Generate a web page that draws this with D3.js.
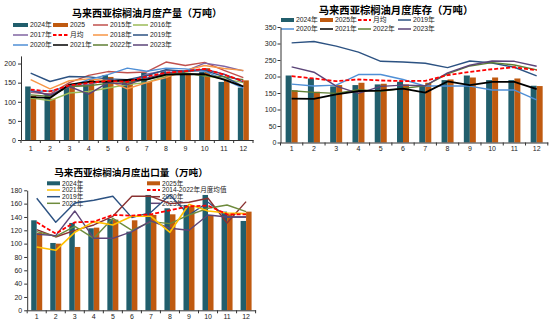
<!DOCTYPE html>
<html><head><meta charset="utf-8">
<script src="https://cdn.jsdelivr.net/npm/d3@7"></script>
<style>
body{margin:0;background:#fff}
svg{display:block}
text{font-family:"Liberation Sans","Noto Sans CJK SC",sans-serif;fill:#222}
.title{font-family:"Noto Sans CJK SC","Liberation Sans",sans-serif;font-weight:bold;fill:#000}
</style>
</head><body>
<svg id="c" width="550" height="325"></svg>
<script>
const months = [1,2,3,4,5,6,7,8,9,10,11,12];

// ---- 马来西亚棕榈油月度产量（万吨）
const prod2024 = [140,122,137,147,170,158,176,180,178,178,152,137];
const prod2025 = [116,108,141,158,165,156,152,168,176,188,160,156];
const prod2015 = [125,120,150,169,179,176,178,204,195,203,182,163];
const prod2016 = [110,103,123,127,136,145,150,168,175,168,160,150];
const prod2017 = [128,118,140,145,158,150,172,182,180,201,193,181];
const prod2018 = [158,134,155,160,155,134,150,163,182,195,187,182];
const prod2019 = [175,153,166,165,160,158,168,184,180,182,166,140];
const prod2020 = [127,128,140,158,171,188,180,188,186,180,158,136];
const prod2021 = [112,110,145,152,153,157,158,171,172,172,158,140];
const prod2022 = [118,114,140,142,148,150,158,172,175,168,165,158];
const prod2023 = [130,117,140,120,150,145,162,175,180,185,172,152];
const prodAvg  = [132,127,143,149,155,152,166,176,180,186,171,154];
const prodTicks = [0,50,100,150,200];

// ---- 马来西亚棕榈油月度库存（万吨）
const inv2024 = [203,194,170,174,176,184,174,189,203,189,189,172];
const inv2025 = [158,154,174,181,178,176,181,191,197,197,194,171];
const invAvg  = [201,194,186,191,188,186,187,204,214,222,228,219];
const inv2019 = [302,306,292,274,246,244,240,227,247,241,228,202];
const inv2020 = [177,171,174,206,206,191,171,171,171,159,159,129];
const inv2021 = [133,132,146,156,157,163,151,185,174,184,184,162];
const inv2022 = [157,152,149,160,155,164,172,208,232,242,235,220];
const inv2023 = [229,213,171,149,170,174,172,211,234,247,246,231];
const invTicks = [0,50,100,150,200,250,300,350];

// ---- 马来西亚棕榈油月度出口量（万吨）
const exp2024 = [135,101,131,123,137,118,173,153,158,173,148,134];
const exp2025 = [116,100,95,124,136,135,143,144,156,143,144,148];
const expAvg  = [132,115,132,133,143,142,144,150,156,157,144,144];
const exp2019 = [168,132,161,165,171,139,147,173,143,162,140,140];
const exp2020 = [121,110,120,128,141,171,171,160,162,168,131,163];
const exp2021 = [95,90,117,133,128,141,141,117,159,149,146,145];
const exp2022 = [118,111,126,108,138,120,133,130,143,153,158,148];
const exp2023 = [114,112,149,108,108,118,134,123,120,143,140,140];
const expTicks = [0,20,40,60,80,100,120,140,160,180];

const TEAL = "#215e6c", ORANGE = "#bf5a10";
const svg = d3.select("#c");

function chart(o){
  const g = svg.append("g");
  const x = d3.scaleBand().domain(months).range([o.x0,o.x1]);
  const y = d3.scaleLinear().domain([0,o.ymax]).range([o.y0,o.y1]);
  const cx = m => x(m) + x.bandwidth()/2;

  // title
  g.append("text").attr("class","title").attr("x",o.tx).attr("y",o.ty)
    .attr("text-anchor","middle").style("font-size",o.tfs+"px").text(o.title);

  // legend
  o.legend.forEach((it,i)=>{
    const c = i % o.lcols.length, r = Math.floor(i / o.lcols.length);
    const lx = o.lcols[c], ly = o.lrows[r];
    if(it.bar){
      g.append("rect").attr("x",lx).attr("y",ly-2).attr("width",o.lsw).attr("height",4).attr("fill",it.color);
    } else {
      g.append("line").attr("x1",lx).attr("x2",lx+o.lsw).attr("y1",ly).attr("y2",ly)
        .attr("stroke",it.color).attr("stroke-width",it.dash?1.8:1.5)
        .attr("stroke-dasharray",it.dash?"3.5,2":null);
    }
    g.append("text").attr("x",lx+o.lsw+2).attr("y",ly).attr("dy","0.35em")
      .style("font-size",o.lfs+"px").text(it.name);
  });

  // bars
  o.bars.forEach((b,bi)=>{
    g.append("g").selectAll("rect").data(b.values).join("rect")
      .attr("x",(d,i)=> cx(months[i]) + (bi===0 ? -o.bw : 0))
      .attr("width",o.bw)
      .attr("y",d=>y(d)).attr("height",d=>y(0)-y(d))
      .attr("fill",b.color);
  });

  // lines
  const line = d3.line().x((d,i)=>cx(months[i])).y(d=>y(d));
  o.lines.forEach(l=>{
    g.append("path").datum(l.values).attr("d",line).attr("fill","none")
      .attr("stroke",l.color).attr("stroke-width",l.w||1.4)
      .attr("stroke-linejoin","round")
      .attr("stroke-dasharray",l.dash?"4,2":null);
  });

  // y axis
  const ya = g.append("g").attr("transform",`translate(${o.x0},0)`)
    .call(d3.axisLeft(y).tickValues(o.yticks).tickSize(3).tickSizeOuter(0).tickPadding(o.ypad));
  ya.selectAll("text").style("font-size",o.fs+"px");
  ya.selectAll("line,path").attr("stroke","#333");

  // x axis
  const xa = g.append("g").attr("transform",`translate(0,${o.y0})`)
    .call(d3.axisBottom(x).tickSize(0).tickSizeOuter(0).tickPadding(o.xpad));
  xa.selectAll("text").style("font-size",o.fs+"px");
  xa.select("path").attr("stroke","#333");
  g.append("g").selectAll("line").data(months.concat([null])).join("line")
    .attr("x1",d=> d===null ? o.x1 : x(d)).attr("x2",d=> d===null ? o.x1 : x(d))
    .attr("y1",o.y0).attr("y2",o.y0+3).attr("stroke","#333");
}

// production
chart({
  title:"马来西亚棕榈油月度产量（万吨）", tx:147, ty:16.5, tfs:10,
  x0:21, x1:253, y0:140, y1:55.9, ymax:220, yticks:prodTicks, fs:7, ypad:2, xpad:6, bw:5.5,
  lcols:[13,53,93,133], lrows:[25,35,45], lsw:15, lfs:6.8,
  legend:[
    {name:"2024年",color:TEAL,bar:true},{name:"2025",color:ORANGE,bar:true},
    {name:"2015年",color:"#c0504d"},{name:"2016年",color:"#9bbb59"},
    {name:"2017年",color:"#8064a2"},{name:"月均",color:"#ff0000",dash:true},
    {name:"2018年",color:"#f79646"},{name:"2019年",color:"#2c5282"},
    {name:"2020年",color:"#4f8fd6"},{name:"2021年",color:"#000"},
    {name:"2022年",color:"#5f7f34"},{name:"2023年",color:"#5b4478"}
  ],
  bars:[{values:prod2024,color:TEAL},{values:prod2025,color:ORANGE}],
  lines:[
    {values:prod2015,color:"#c0504d"},{values:prod2016,color:"#9bbb59"},
    {values:prod2017,color:"#8064a2"},{values:prod2018,color:"#f79646"},
    {values:prod2019,color:"#2c5282"},{values:prod2020,color:"#4f8fd6"},
    {values:prod2022,color:"#5f7f34"},{values:prod2023,color:"#5b4478"},
    {values:prod2021,color:"#000",w:1.8},{values:prodAvg,color:"#ff0000",dash:true,w:1.8}
  ]
});

// inventory
chart({
  title:"马来西亚棕榈油月度库存（万吨）", tx:396, ty:13.8, tfs:10.3,
  x0:280.5, x1:547.8, y0:142.5, y1:27, ymax:350, yticks:invTicks, fs:7, ypad:1, xpad:4, bw:6,
  lcols:[281,320,358,398], lrows:[20,29], lsw:13, lfs:6.8,
  legend:[
    {name:"2024年",color:TEAL,bar:true},{name:"2025年",color:ORANGE,bar:true},
    {name:"月均",color:"#ff0000",dash:true},{name:"2019年",color:"#2c5282"},
    {name:"2020年",color:"#4f8fd6"},{name:"2021年",color:"#000"},
    {name:"2022年",color:"#5f7f34"},{name:"2023年",color:"#5b4478"}
  ],
  bars:[{values:inv2024,color:TEAL},{values:inv2025,color:ORANGE}],
  lines:[
    {values:inv2019,color:"#2c5282"},{values:inv2020,color:"#4f8fd6"},
    {values:inv2022,color:"#5f7f34"},{values:inv2023,color:"#5b4478"},
    {values:inv2021,color:"#000",w:1.8},{values:invAvg,color:"#ff0000",dash:true,w:1.8}
  ]
});

// exports
chart({
  title:"马来西亚棕榈油月度出口量（万吨）", tx:131, ty:176.2, tfs:9.6,
  x0:27.2, x1:255.6, y0:310.3, y1:190.3, ymax:180, yticks:expTicks, fs:7, ypad:2, xpad:4, bw:5.5,
  lcols:[47,147], lrows:[183.3,190,196.7,203.3], lsw:13, lfs:6.6,
  legend:[
    {name:"2024年",color:TEAL,bar:true},{name:"2025年",color:ORANGE,bar:true},
    {name:"2021年",color:"#ffc000"},{name:"2014-2022年月度均值",color:"#ff0000",dash:true},
    {name:"2019年",color:"#2c5282"},{name:"2020年",color:"#8a3232"},
    {name:"2022年",color:"#6e8b3d"},{name:"2023年",color:"#5e4577"}
  ],
  bars:[{values:exp2024,color:TEAL},{values:exp2025,color:ORANGE}],
  lines:[
    {values:exp2019,color:"#2c5282"},{values:exp2020,color:"#8a3232"},
    {values:exp2022,color:"#6e8b3d"},{values:exp2023,color:"#5e4577"},
    {values:exp2021,color:"#ffc000",w:1.6},{values:expAvg,color:"#ff0000",dash:true,w:1.8}
  ]
});
</script>
</body></html>
